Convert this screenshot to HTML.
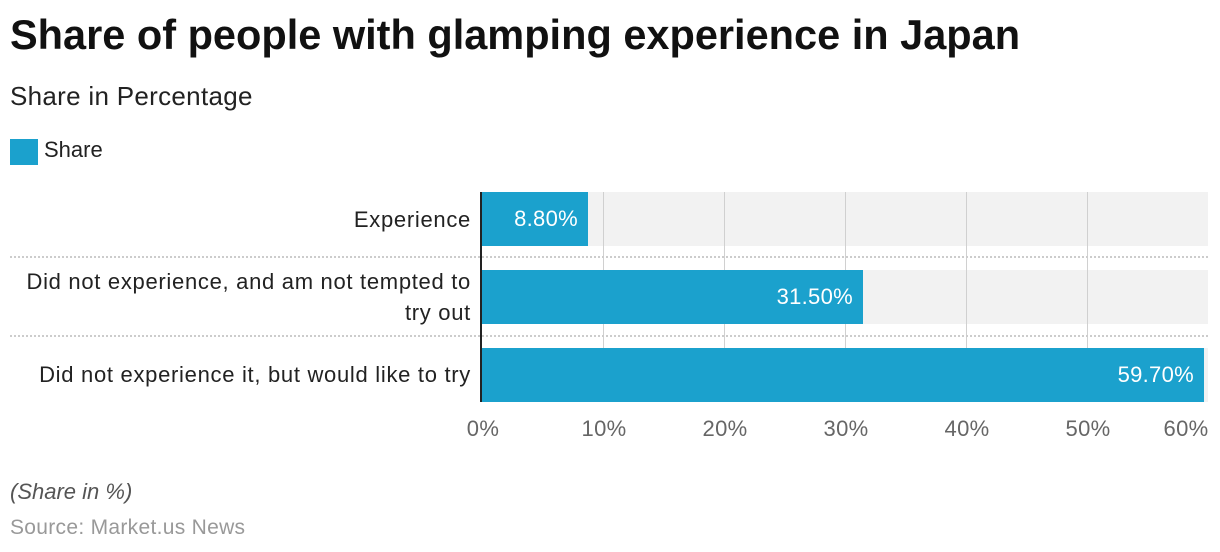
<!DOCTYPE html>
<html><head><meta charset="utf-8"><style>
body{margin:0;width:1220px;height:552px;background:#fff;font-family:"Liberation Sans",sans-serif;position:relative;overflow:hidden}
.a{position:absolute;white-space:nowrap}
.band{position:absolute;left:482px;width:726px;height:54px;background:#f2f2f2}
.bar{position:absolute;left:482px;height:54px;background:#1ba1cd;color:#fff;font-size:22px;letter-spacing:0.3px;line-height:54px;text-align:right;box-sizing:border-box;padding-right:10px}
.g{position:absolute;top:192px;height:210px;width:1px;background:#d0d0d0}
.lab{position:absolute;right:749px;text-align:right;font-size:22px;letter-spacing:0.7px;color:#222;line-height:31px;white-space:nowrap}
.t{position:absolute;top:416px;font-size:22px;color:#666;transform:translateX(-50%);letter-spacing:0.3px}
.dot{position:absolute;left:10px;width:1198px;border-top:2px dotted #ccc}
</style></head><body>
<div class="a" style="left:10px;top:11px;font-size:41.5px;font-weight:bold;color:#111">Share of people with glamping experience in Japan</div>
<div class="a" style="left:10px;top:81px;font-size:26px;letter-spacing:0.3px;color:#222">Share in Percentage</div>
<div class="a" style="left:10px;top:139px;width:28px;height:26px;background:#1ba1cd"></div>
<div class="a" style="left:44px;top:137px;font-size:22px;color:#222">Share</div>
<div class="band" style="top:192px"></div>
<div class="band" style="top:270px"></div>
<div class="band" style="top:348px"></div>
<div class="g" style="left:603px"></div><div class="g" style="left:724px"></div><div class="g" style="left:845px"></div><div class="g" style="left:966px"></div><div class="g" style="left:1087px"></div>
<div class="dot" style="top:256px"></div><div class="dot" style="top:335px"></div>
<div class="bar" style="top:192px;width:106px">8.80%</div>
<div class="bar" style="top:270px;width:381px">31.50%</div>
<div class="bar" style="top:348px;width:722px">59.70%</div>
<div class="a" style="left:480px;top:192px;width:2px;height:210px;background:#222"></div>
<div class="lab" style="top:204px">Experience</div>
<div class="lab" style="top:266px">Did not experience, and am not tempted to<br>try out</div>
<div class="lab" style="top:359px">Did not experience it, but would like to try</div>
<div class="t" style="left:483px">0%</div><div class="t" style="left:604px">10%</div><div class="t" style="left:725px">20%</div><div class="t" style="left:846px">30%</div><div class="t" style="left:967px">40%</div><div class="t" style="left:1088px">50%</div><div class="t" style="left:1186px">60%</div>
<div class="a" style="left:10px;top:479px;font-size:22px;font-style:italic;color:#555">(Share in %)</div>
<div class="a" style="left:10px;top:516px;font-size:21px;letter-spacing:0.3px;color:#999">Source: Market.us News</div>
</body></html>
